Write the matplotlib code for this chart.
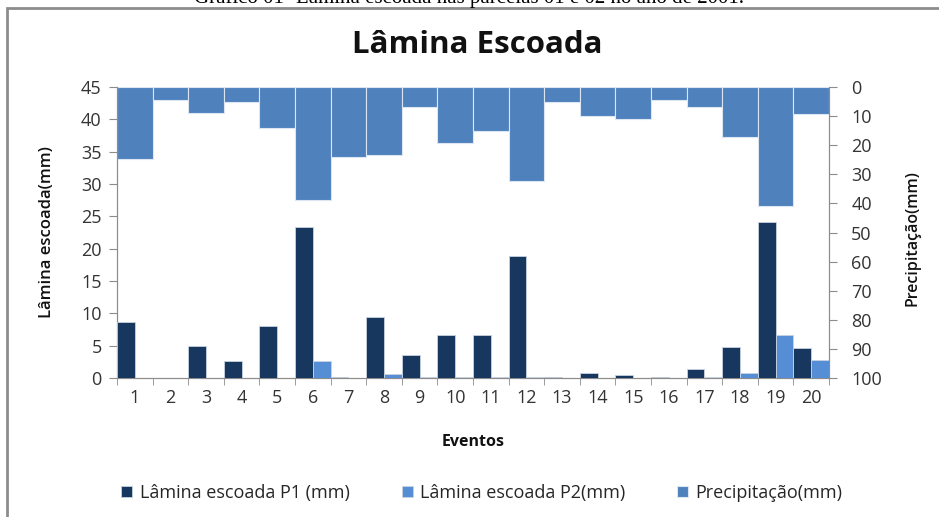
import numpy as np
import matplotlib as mpl

mpl.use("Agg")
from matplotlib import pyplot as plt
from matplotlib.patches import Rectangle

# eventos de chuva de 2001
eventos = [str(i) for i in range(1, 21)]
lamina_p1 = [8.6, 0.0, 5.0, 2.6, 8.1, 23.4, 0.15, 9.5, 3.6, 6.7,
             6.6, 18.8, 0.1, 0.85, 0.4, 0.1, 1.4, 4.8, 24.2, 4.6]
lamina_p2 = [0.0, 0.0, 0.0, 0.0, 0.0, 2.6, 0.0, 0.55, 0.1, 0.1,
             0.1, 0.1, 0.0, 0.0, 0.0, 0.0, 0.1, 0.8, 6.6, 2.8]
precipitacao = [24.7, 4.5, 9.0, 5.0, 14.2, 38.9, 24.2, 23.5, 7.0, 19.1,
                15.2, 32.4, 5.3, 10.0, 10.9, 4.4, 6.9, 17.1, 40.9, 9.4]

cor_p1 = '#17375E'
cor_p2 = '#558ED5'
cor_prec = '#4F81BD'
cinza = '#8C8C8C'
fonte = ['Open Sans', 'DejaVu Sans']

plt.rcParams['font.family'] = fonte

f = plt.figure(figsize=(9.39, 5.17), dpi=100)

# legenda do documento (cortada no topo) e moldura do grafico
f.text(0.5, 1.003, 'Gráfico 01- Lâmina escoada nas parcelas 01 e 02 no ano de 2001.',
       ha='center', va='center', fontsize=15, family='Liberation Serif')
f.add_artist(Rectangle((7 / 939, -0.05), 1.0, 1 - 8 / 517 + 0.05, transform=f.transFigure,
                       fill=False, edgecolor=cinza, linewidth=2))

ax = f.add_axes([117 / 939, 139 / 517, 712 / 939, 291 / 517])
ax2 = ax.twinx()

x = np.arange(len(eventos))
ax.bar(x - 0.25, lamina_p1, width=0.5, color=cor_p1, edgecolor='#C8D3E0', linewidth=0.6,
       label='Lâmina escoada P1 (mm)', zorder=3)
ax.bar(x + 0.25, lamina_p2, width=0.5, color=cor_p2, edgecolor='#C8D3E0', linewidth=0.6,
       label='Lâmina escoada P2(mm)', zorder=3)
ax2.bar(x, precipitacao, width=1.0, color=cor_prec, edgecolor='#DCE6F2', linewidth=0.8,
        label='Precipitação(mm)')

ax.set_xlim(-0.5, len(eventos) - 0.5)
ax.set_ylim(0, 45)
ax.set_yticks(range(0, 46, 5))
ax2.set_ylim(100, 0)
ax2.set_yticks(range(0, 101, 10))

ax.set_xticks(x)
ax.set_xticklabels(eventos)
ax.set_xticks(np.arange(-0.5, len(eventos), 1.0), minor=True)
ax.tick_params(axis='x', which='major', length=0, pad=8)
ax.tick_params(axis='x', which='minor', length=5, color=cinza)

for a in (ax, ax2):
    a.set_facecolor('none')
    for s in a.spines.values():
        s.set_color(cinza)
    a.spines['top'].set_visible(False)
    a.tick_params(axis='y', length=6, color=cinza, labelsize=13, labelcolor='#333333')
ax.tick_params(axis='y', pad=5)
ax2.tick_params(axis='y', pad=10)
ax.tick_params(axis='x', labelsize=13, labelcolor='#333333')
ax.set_zorder(ax2.get_zorder() + 1)
ax.patch.set_visible(False)

f.text(477 / 939, 1 - 45 / 517, 'Lâmina Escoada', ha='center', va='center',
       fontsize=22.5, fontweight='bold', color='#111111')
f.text(47 / 939, 1 - 232 / 517, 'Lâmina escoada(mm)', ha='center', va='center',
       rotation=90, fontsize=12, fontweight='semibold', color='#111111')
f.text(913 / 939, 1 - 238 / 517, 'Precipitação(mm)', ha='center', va='center',
       rotation=90, fontsize=11.5, fontweight='semibold', color='#111111')
f.text(473 / 939, 1 - 442 / 517, 'Eventos', ha='center', va='center',
       fontsize=11.5, fontweight='bold', color='#111111')

h1, l1 = ax.get_legend_handles_labels()
h2, l2 = ax2.get_legend_handles_labels()
f.legend(h1 + h2, l1 + l2, loc='center', bbox_to_anchor=(482 / 939, 1 - 493 / 517),
         ncol=3, frameon=False, fontsize=13, handlelength=0.6, handleheight=0.6,
         handletextpad=0.4, columnspacing=2.9, labelcolor='#262626')

f.savefig('out.png', dpi=100)
